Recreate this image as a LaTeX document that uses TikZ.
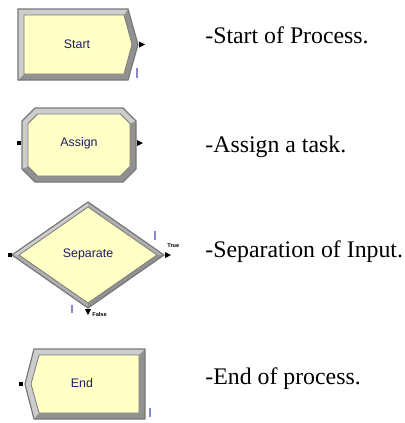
\documentclass[tikz,border=0pt]{standalone}
\usepackage{fontspec}
\setmainfont{Liberation Serif}
\newfontfamily\modfont{Liberation Sans}
\usetikzlibrary{positioning}
\definecolor{blkfill}{RGB}{255,255,198}
\definecolor{blkedge}{RGB}{120,120,120}
\definecolor{bevlite}{RGB}{205,205,205}
\definecolor{bevmid}{RGB}{175,175,175}
\definecolor{bevdark}{RGB}{145,145,145}
\definecolor{blktext}{RGB}{30,30,100}
\definecolor{markcol}{RGB}{135,135,205}
\newcommand{\outright}[2]{\fill[black] (#1,#2-3) -- (#1+6,#2) -- (#1,#2+3) -- cycle;}
\newcommand{\outdown}[2]{\fill[black] (#1-3,#2) -- (#1,#2+6) -- (#1+3,#2) -- cycle;}
\tikzset{
  face/.style={fill=blkfill, draw=blkedge, line width=0.4pt},
  rim/.style={draw=blkedge, line width=0.6pt},
  blklbl/.style={font=\modfont\fontsize{6.2}{7}\selectfont, text=blktext, inner sep=0pt},
  desc/.style={font=\fontsize{11.9}{14}\selectfont, anchor=base west, inner sep=0pt},
  portlbl/.style={font=\modfont\bfseries\fontsize{2.8}{3}\selectfont, inner sep=0pt},
  portin/.style={fill=black, minimum width=2pt, minimum height=1.6pt, inner sep=0pt},
  markbar/.style={draw=markcol, line width=0.9pt},
}
\begin{document}
\begin{tikzpicture}[x=0.5pt, y=-0.5pt]
  \useasboundingbox[fill=white] (0,0) rectangle (405,423);
  % start block
  \fill[bevdark] (18,9) -- (128,9) -- (138,44.5) -- (128,80) -- (18,80) -- cycle;
  \fill[bevlite] (18,9) -- (128,9) -- (124,15) -- (24,15) -- (24,74) -- (18,80) -- cycle;
  \draw[rim] (18,9) -- (128,9) -- (138,44.5) -- (128,80) -- (18,80) -- cycle;
  \draw[face] (24,15) -- (124,15) -- (132,44.5) -- (124,74) -- (24,74) -- cycle;
  \node[blklbl] (start) at (77,44) {Start};
  \outright{139}{44.5}
  \draw[markbar] (137,68) -- (137,78);
  % assign block
  \fill[bevdark] (35,108) -- (123,108) -- (136,121) -- (136,169) -- (123,182) -- (35,182) -- (22,169) -- (22,121) -- cycle;
  \fill[bevlite] (22,169) -- (22,121) -- (35,108) -- (123,108) -- (136,121) -- (130,123.5) -- (120.5,114) -- (37.5,114) -- (28,123.5) -- (28,166.5) -- cycle;
  \draw[rim] (35,108) -- (123,108) -- (136,121) -- (136,169) -- (123,182) -- (35,182) -- (22,169) -- (22,121) -- cycle;
  \draw[face] (37.5,114) -- (120.5,114) -- (130,123.5) -- (130,166.5) -- (120.5,176) -- (37.5,176) -- (28,166.5) -- (28,123.5) -- cycle;
  \node[blklbl] (assign) at (79,143) {Assign};
  \node[portin] (assign-in) at (19,143) {};
  \outright{137}{143}
  % separate block
  \fill[bevmid] (12,255) -- (88,202) -- (164,255) -- (88,308) -- cycle;
  \fill[bevlite] (12,255) -- (88,202) -- (88,207) -- (19,255) -- cycle;
  \fill[bevdark] (164,255) -- (88,308) -- (88,303) -- (157,255) -- cycle;
  \draw[rim] (12,255) -- (88,202) -- (164,255) -- (88,308) -- cycle;
  \draw[face] (19,255) -- (88,207) -- (157,255) -- (88,303) -- cycle;
  \node[blklbl] (separate) at (88,254) {Separate};
  \node[portin] (separate-in) at (10,255) {};
  \outright{165}{255}
  \outdown{88}{309}
  \node[portlbl, anchor=west] (true) at (167,246) {True};
  \node[portlbl, anchor=west] (false) at (92,314) {False};
  \draw[markbar] (155,231) -- (155,240);
  \draw[markbar] (72,305) -- (72,313);
  % end block
  \fill[bevdark] (34,349) -- (145,349) -- (145,419) -- (34,419) -- (25,384) -- cycle;
  \fill[bevlite] (25,384) -- (34,349) -- (145,349) -- (139,355) -- (39,355) -- (31,384) -- (39,413) -- (34,419) -- cycle;
  \draw[rim] (34,349) -- (145,349) -- (145,419) -- (34,419) -- (25,384) -- cycle;
  \draw[face] (39,355) -- (139,355) -- (139,413) -- (39,413) -- (31,384) -- cycle;
  \node[blklbl] (end) at (82,383) {End};
  \node[portin] (end-in) at (21,384) {};
  \draw[markbar] (150,408) -- (150,417);
  % descriptions
  \node[desc] (startdesc) at (205,43) {-Start of Process.};
  \node[desc] (assigndesc) at (205,152) {-Assign a task.};
  \node[desc] (separatedesc) at (205,257) {-Separation of Input.};
  \node[desc] (enddesc) at (205,384) {-End of process.};
\end{tikzpicture}
\end{document}
